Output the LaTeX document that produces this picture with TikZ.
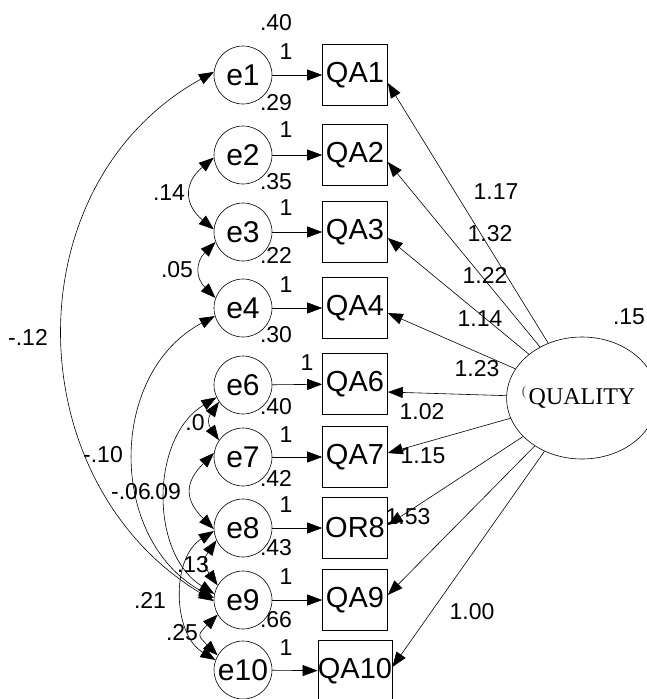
\documentclass[tikz,border=0pt]{standalone}
\usepackage{fontspec}
\setsansfont{Liberation Sans}
\newfontfamily\latentfont{Liberation Serif}
\usetikzlibrary{arrows.meta}
\usetikzlibrary{shapes.geometric}
\tikzset{every picture/.style={/utils/exec={\sffamily}}}
\tikzset{
  err/.style={draw, circle, minimum size=58pt, inner sep=0pt, font=\fontsize{30}{30}\selectfont},
  item/.style={draw, minimum width=65pt, minimum height=61pt, inner sep=0pt, font=\fontsize{29}{29}\selectfont},
  lbl/.style={inner sep=0pt, font=\fontsize{23}{23}\selectfont}
}

\begin{document}
\begin{tikzpicture}[x=1pt, y=1pt, line width=0.6pt, >={Triangle[length=15pt,width=11pt]}]

  \useasboundingbox (0,0) rectangle (647,-699);

  % error terms and items
  \foreach \n/\y in {1/75, 2/155, 3/232, 4/308, 6/385, 7/457, 8/528, 9/600, 10/670}
    \node [err] (e\n) at (243,-\y) {e\n};
  \foreach \n/\t/\y in {qa1/QA1/75, qa2/QA2/155, qa3/QA3/232, qa4/QA4/308, qa6/QA6/384,
                        qa7/QA7/457, or8/OR8/528, qa9/QA9/600, qa10/QA10/671}
    \node [item] (\n) at (355,-\y) {\t};

  % latent factor
  \node [draw, ellipse, minimum width=138pt, minimum height=122pt, inner sep=0pt,
         font=\latentfont\fontsize{24}{24}\selectfont] (quality) at (582,-398) {QUALITY};
  \node [inner sep=0pt, font=\latentfont\fontsize{13}{13}\selectfont, text=black!70] (paren) at (524,-392) {(};
  \node [lbl] (vq) at (629,-317) {.15};

  % e -> item
  \foreach \a/\b in {e1/qa1, e2/qa2, e3/qa3, e4/qa4, e6/qa6, e7/qa7, e8/or8, e9/qa9, e10/qa10}
    \draw [->] (\a) -- (\b);

  % fixed paths and variances
  \foreach \n/\x/\y in {1/286/52, 2/286/130, 3/286/208, 4/286/285, 6/307/363,
                        7/286/435, 8/286/505, 9/286/577, 10/286/648}
    \node [lbl] (one\n) at (\x,-\y) {1};
  \foreach \n/\v/\y in {1/.40/23, 2/.29/103, 3/.35/182, 4/.22/255, 6/.30/335,
                        7/.40/407, 8/.42/478, 9/.43/548, 10/.66/620}
    \node [lbl] (var\n) at (276,-\y) {\v};

  % loadings from QUALITY
  \foreach \n/\s in {qa1/-8, qa2/-7, qa3/-6, qa4/-5, qa6/-8, qa7/4, or8/3, qa9/5, qa10/4}
    \draw [->] (quality) -- ([yshift=\s pt]\n.east);
  \foreach \v/\x/\y in {1.17/496/192, 1.32/490/234, 1.22/485/275, 1.14/480/319, 1.23/477/369,
                        1.02/422/412, 1.15/423/456, 1.53/408/517, 1.00/472/612}
    \node [lbl] (w\x) at (\x,-\y) {\v};

  % covariances:
  \draw [<->] (e1.174) to [out=209, in=149, looseness=1.12] (e9.182);
  \draw [<->] (e2.185) to [out=220, in=140, looseness=1.4] (e3.175);
  \draw [<->] (e3.200) to [out=225, in=135, looseness=1.3] (e4.160);
  \draw [<->] (e4.196) to [out=208, in=151, looseness=1.1] (e9.176);
  \draw [<->] (e6.205) to [out=211, in=148] (e9.168);
  \draw [<->] (e6.215) to [out=235, in=125, looseness=1.3] (e7.145);
  \draw [<->] (e7.172) to [out=225, in=135, looseness=1.4] (e8.182);
  \draw [<->] (e8.205) to [out=235, in=125, looseness=1.4] (e9.150);
  \draw [<->] (e8.186) to [out=212, in=149] (e10.160);
  \draw [<->] (e9.210) to [out=225, in=135, looseness=1.8] (e10.150);

  \node [lbl] (c19) at (28,-337) {-.12};
  \node [lbl] (c23) at (169,-193) {.14};
  \node [lbl] (c34) at (177,-270) {.05};
  \node [lbl] (c49) at (103,-455) {-.10};
  \node [lbl] (c69) at (131,-492) {-.06};
  \node [lbl] (c67) at (195,-423) {.0};
  \node [lbl] (c78) at (165,-492) {.09};
  \node [lbl] (c89) at (193,-565) {.13};
  \node [lbl] (c810) at (150,-600) {.21};
  \node [lbl] (c910) at (182,-633) {.25};

\end{tikzpicture}
\end{document}
